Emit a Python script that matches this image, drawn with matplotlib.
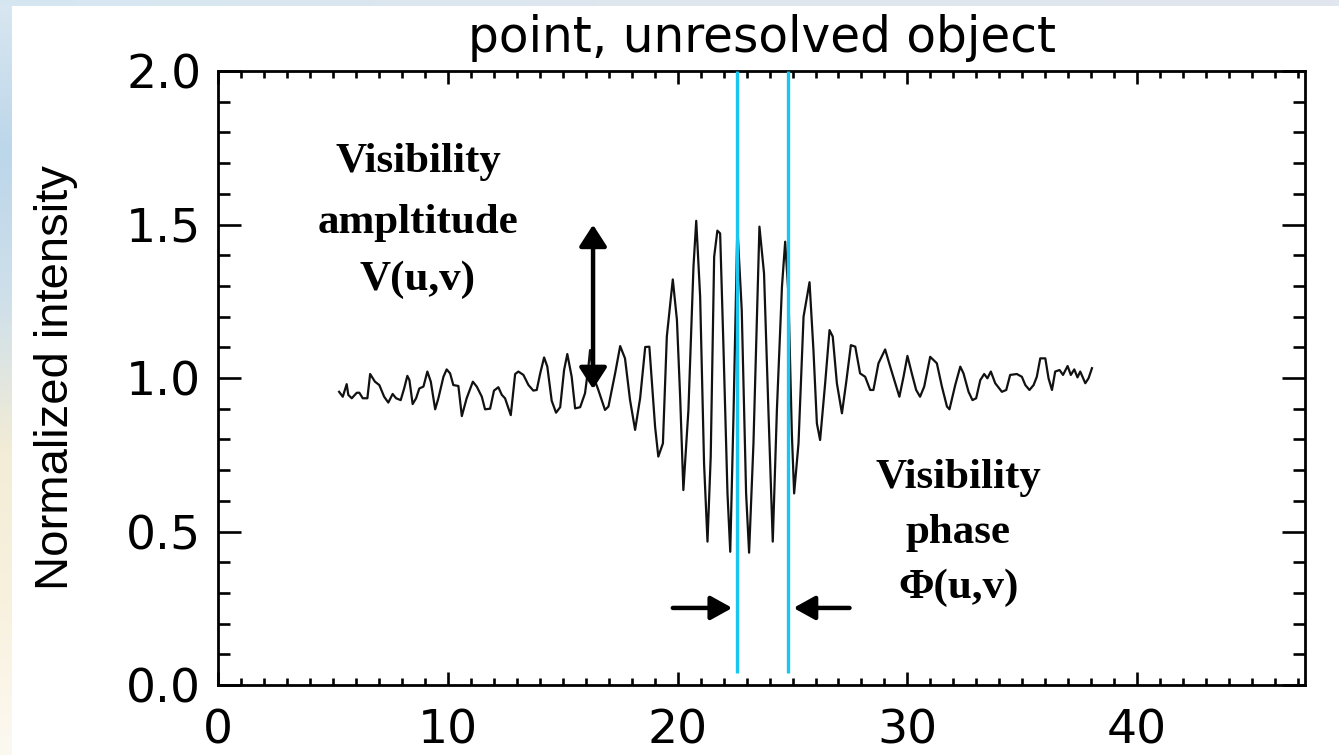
import numpy as np
import matplotlib
matplotlib.use("Agg")
import matplotlib.pyplot as plt
from matplotlib.colors import LinearSegmentedColormap
from matplotlib.patches import FancyArrowPatch

# fringe scan: turning points of the measured intensity trace
scan_x = [5.27, 5.43, 5.60, 5.67, 5.82, 6.04, 6.15, 6.30, 6.50, 6.62, 6.83, 7.02,
          7.23, 7.41, 7.60, 7.75, 7.95, 8.10, 8.24, 8.33, 8.47, 8.62, 8.76, 8.94,
          9.11, 9.26, 9.45, 9.59, 9.81, 9.95, 10.10, 10.24, 10.46, 10.61, 10.82, 11.09,
          11.26, 11.48, 11.62, 11.84, 12.01, 12.20, 12.35, 12.49, 12.74, 12.93, 13.07, 13.29,
          13.51, 13.72, 13.87, 14.02, 14.19, 14.33, 14.52, 14.71, 14.89, 15.06, 15.20, 15.39,
          15.54, 15.76, 15.97, 16.12, 16.19, 16.34, 16.55, 16.84, 16.99, 17.28, 17.50, 17.71,
          17.93, 18.15, 18.37, 18.59, 18.77, 19.02, 19.16, 19.36, 19.53, 19.79, 19.97, 20.11,
          20.25, 20.47, 20.69, 20.81, 20.98, 21.15, 21.30, 21.44, 21.59, 21.73, 21.85, 21.99,
          22.17, 22.29, 22.43, 22.60, 22.79, 22.98, 23.11, 23.30, 23.56, 23.76, 23.95, 24.14,
          24.32, 24.54, 24.68, 24.82, 24.97, 25.07, 25.26, 25.48, 25.74, 25.91, 26.06, 26.20,
          26.42, 26.61, 26.75, 26.93, 27.15, 27.33, 27.54, 27.73, 27.94, 28.16, 28.38, 28.52,
          28.74, 29.03, 29.25, 29.47, 29.65, 29.83, 30.00, 30.19, 30.38, 30.55, 30.73, 30.99,
          31.28, 31.50, 31.72, 31.83, 32.08, 32.30, 32.44, 32.66, 32.83, 32.99, 33.17, 33.34,
          33.48, 33.63, 33.82, 34.11, 34.30, 34.47, 34.76, 34.98, 35.13, 35.31, 35.49, 35.63,
          35.78, 36.00, 36.14, 36.29, 36.43, 36.62, 36.77, 36.97, 37.11, 37.26, 37.40, 37.52,
          37.74, 37.88, 38.03]
scan_y = [0.955, 0.939, 0.980, 0.945, 0.934, 0.952, 0.952, 0.934, 0.934, 1.013, 0.988, 0.977,
          0.939, 0.920, 0.948, 0.934, 0.928, 0.966, 1.007, 0.993, 0.915, 0.934, 0.966, 0.972,
          1.021, 0.988, 0.898, 0.934, 1.004, 1.028, 1.015, 0.977, 0.974, 0.876, 0.934, 0.988,
          0.972, 0.939, 0.898, 0.900, 0.959, 0.970, 0.945, 0.934, 0.879, 1.013, 1.021, 1.010,
          0.977, 0.959, 0.961, 1.015, 1.067, 1.037, 0.926, 0.887, 0.905, 1.026, 1.078, 1.004,
          0.901, 0.905, 0.950, 1.037, 1.091, 1.004, 0.961, 0.896, 0.907, 1.015, 1.104, 1.064,
          0.928, 0.831, 0.935, 1.101, 1.102, 0.841, 0.744, 0.787, 1.135, 1.321, 1.189, 0.939,
          0.635, 0.896, 1.363, 1.512, 1.265, 0.722, 0.467, 0.744, 1.395, 1.480, 1.471, 1.113,
          0.624, 0.434, 0.874, 1.493, 1.221, 0.624, 0.431, 0.787, 1.493, 1.341, 0.896, 0.467,
          0.896, 1.297, 1.444, 1.276, 0.820, 0.624, 0.787, 1.200, 1.312, 1.091, 0.852, 0.798,
          0.983, 1.156, 1.135, 0.983, 0.885, 0.983, 1.107, 1.102, 1.015, 1.004, 0.961, 0.961,
          1.048, 1.093, 1.037, 0.983, 0.939, 1.004, 1.072, 1.015, 0.961, 0.939, 0.972, 1.069,
          1.048, 0.972, 0.907, 0.898, 0.977, 1.037, 1.015, 0.955, 0.928, 0.934, 0.993, 1.013,
          0.999, 1.021, 0.983, 0.955, 0.961, 1.010, 1.013, 1.004, 0.977, 0.961, 0.977, 1.004,
          1.064, 1.064, 0.999, 0.961, 1.021, 1.026, 1.010, 1.039, 1.010, 1.028, 1.002, 1.021,
          0.983, 0.999, 1.032]

# fringe phase markers
phase_lines = [22.58, 24.80]

# annotation text
amp_lines = ["Visibility", "ampltitude", "V(u,v)"]
phase_text = ["Visibility", "phase", "\u03a6(u,v)"]

fig = plt.figure(figsize=(13.39, 7.55), dpi=100)
fig.patch.set_facecolor("white")

# slide background showing at the edges
edge_cmap = LinearSegmentedColormap.from_list(
    "edge", ["#d9e7f1", "#bcd6ea", "#cfe0ea", "#f3ecd6", "#f8f1de", "#fcf9f1"])
left = fig.add_axes([0, 0, 12 / 1339, 1])
left.imshow(np.linspace(0, 1, 256).reshape(-1, 1), aspect="auto", cmap=edge_cmap)
left.axis("off")
top_cmap = LinearSegmentedColormap.from_list("top", ["#d6e6f1", "#dfe6ee", "#e2e6ee"])
top = fig.add_axes([0, 1 - 6 / 755, 1, 6 / 755])
top.imshow(np.linspace(0, 1, 256).reshape(1, -1), aspect="auto", cmap=top_cmap)
top.axis("off")

ax = fig.add_axes([218 / 1339, 1 - 685 / 755, (1305 - 218) / 1339, (685 - 71) / 755])

ax.plot(scan_x, scan_y, color="#111111", lw=1.6, zorder=2)
ax.vlines(phase_lines, 0.04, 2.0, colors="#19c6f0", lw=2.4, zorder=3, clip_on=False)

ax.set_xlim(0, 47.3)
ax.set_ylim(0, 2.0)
ax.set_xticks([0, 10, 20, 30, 40])
ax.set_xticks(np.arange(0, 48, 1), minor=True)
ax.set_yticks([0.0, 0.5, 1.0, 1.5, 2.0])
ax.set_yticks(np.arange(0, 2.01, 0.1), minor=True)
ax.set_xticklabels(["0", "10", "20", "30", "40"])
ax.set_yticklabels(["0.0", "0.5", "1.0", "1.5", "2.0"])

for s in ax.spines.values():
    s.set_linewidth(2.0)
ax.tick_params(which="both", direction="in", top=True, right=True, width=1.9,
               labelsize=34, colors="black")
ax.tick_params(axis="x", which="major", length=9.5, pad=17)
ax.tick_params(axis="x", which="minor", length=4.7)
ax.tick_params(axis="y", which="major", length=16.5, pad=12)
ax.tick_params(axis="y", which="minor", length=8.6)
for lab in ax.get_xticklabels() + ax.get_yticklabels():
    lab.set_family("DejaVu Sans")

fig.text(762 / 1339, 1 - 38 / 755, "point, unresolved object", ha="center", va="center",
         fontsize=35, family="DejaVu Sans")
fig.text(56 / 1339, 1 - 377.5 / 755, "Normalized intensity", rotation=90, ha="center",
         va="center", fontsize=34, family="Liberation Sans")

# annotation blocks in bold serif
for txt, yb in zip(amp_lines, [1.671, 1.472, 1.287]):
    ax.text(8.70, yb, txt, ha="center", va="baseline", fontsize=31,
            family="Liberation Serif", fontweight="bold")
for txt, yb in zip(phase_text, [0.642, 0.463, 0.283]):
    ax.text(32.22, yb, txt, ha="center", va="baseline", fontsize=31,
            family="Liberation Serif", fontweight="bold")

# amplitude arrow and phase arrows
ax.add_patch(FancyArrowPatch((16.32, 0.955), (16.32, 1.508),
                             arrowstyle="<|-|>,head_length=0.65,head_width=0.42",
                             mutation_scale=20, lw=3.2, color="black", zorder=4))
ax.add_patch(FancyArrowPatch((19.67, 0.251), (22.50, 0.251),
                             arrowstyle="-|>,head_length=0.65,head_width=0.36",
                             mutation_scale=20, lw=3.2, color="black", zorder=4))
ax.add_patch(FancyArrowPatch((27.60, 0.251), (24.92, 0.251),
                             arrowstyle="-|>,head_length=0.65,head_width=0.36",
                             mutation_scale=20, lw=3.2, color="black", zorder=4))

fig.savefig("out.png", dpi=100, facecolor=fig.get_facecolor())
